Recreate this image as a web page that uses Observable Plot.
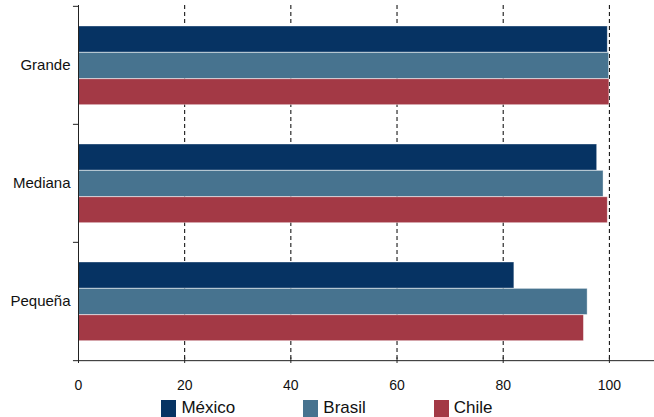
<!DOCTYPE html>
<html>
<head>
<meta charset="utf-8">
<script src="https://cdn.jsdelivr.net/npm/d3@7"></script>
<script src="https://cdn.jsdelivr.net/npm/@observablehq/plot@0.6"></script>
<style>
  html, body { margin: 0; padding: 0; background: #fff; overflow: hidden; }
  #legend { display: flex; justify-content: center; gap: 68px; height: 22px; align-items: center;
    font-family: "Liberation Sans", Arial, sans-serif; font-size: 17px; color: #111; padding-top: 2px; }
  .item { display: flex; align-items: center; gap: 5px; }
  .sw { width: 15px; height: 17px; display: inline-block; }
</style>
</head>
<body>
<div id="chart"></div>
<div id="legend"></div>
<script>
const categories = ["Grande", "Mediana", "Pequeña"];
const series = ["México", "Brasil", "Chile"];
const mexico = [99.7, 97.7, 82.1];
const brasil = [99.95, 98.9, 95.9];
const chile = [100, 99.7, 95.2];
const xTicks = [0, 20, 40, 60, 80, 100];
const colors = ["#063363", "#47738f", "#a33945"];

const values = [mexico, brasil, chile];
const data = series.flatMap((s, si) => categories.map((c, ci) => ({series: s, cat: c, value: values[si][ci]})));

const bw = 355 / 3;
const insets = [[20, bw - 46.4], [46.4, bw - 72.8], [72.8, bw - 99]];

const barMarks = series.map((s, si) =>
  Plot.barX(data.filter(d => d.series === s), {
    y: "cat", x: "value", fill: colors[si],
    insetTop: insets[si][0], insetBottom: insets[si][1],
    stroke: "#ffffff", strokeOpacity: 0.45, strokeWidth: 0.8
  })
);

const chart = Plot.plot({
  width: 654,
  height: 395,
  marginLeft: 78,
  marginRight: 0,
  marginTop: 5,
  marginBottom: 35,
  x: {domain: [0, 108.5]},
  y: {domain: categories, padding: 0},
  style: {fontFamily: "'Liberation Sans', Arial, sans-serif", color: "#111", background: "#fff"},
  marks: [
    Plot.ruleX(xTicks.slice(1), {x: d => d, stroke: "#000", strokeDasharray: "4,3", strokeWidth: 1}),
    ...barMarks,
    Plot.ruleX([0], {stroke: "#222", strokeWidth: 1}),
    Plot.ruleY(categories, {y: d => d, x1: -0.95, x2: 0, dy: -bw / 2, stroke: "#222"}),
    Plot.ruleY(["Pequeña"], {y: d => d, x1: -0.95, x2: 108.5, dy: bw / 2, stroke: "#222"}),
    Plot.tickX(xTicks, {x: d => d, y: d => "Pequeña", insetTop: bw - 3, stroke: "#222"}),
    Plot.axisX(xTicks, {tickSize: 3, tickPadding: 17, fontSize: 14, label: null, stroke: "#222"}),
    Plot.axisY({tickSize: 0, tickPadding: 8, fontSize: 15, label: null})
  ]
});
document.getElementById("chart").appendChild(chart);

const legend = document.getElementById("legend");
series.forEach((s, i) => {
  const item = document.createElement("span");
  item.className = "item";
  const sw = document.createElement("span");
  sw.className = "sw";
  sw.style.background = colors[i];
  const t = document.createElement("span");
  t.textContent = s;
  item.appendChild(sw);
  item.appendChild(t);
  legend.appendChild(item);
});
</script>
</body>
</html>
